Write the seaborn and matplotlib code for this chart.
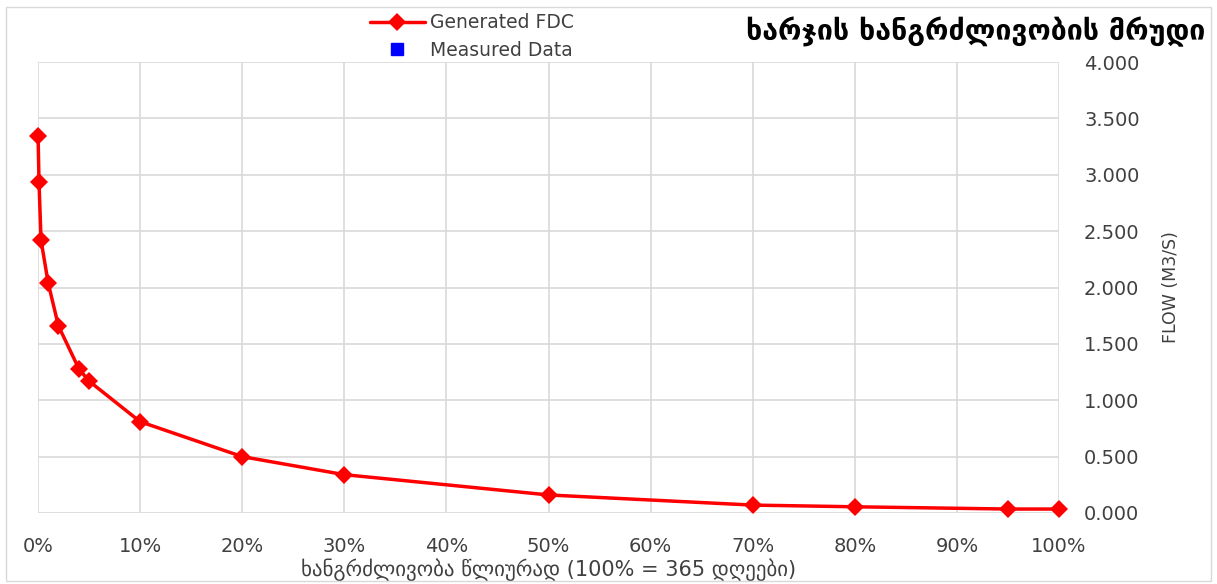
import matplotlib.pyplot as plt
import matplotlib.ticker as mticker
import seaborn as sns
from matplotlib.patches import Rectangle

# exceedance probability (% of year) and generated flow (m3/s)
EXCEEDANCE = [0.01, 0.1, 0.3, 1, 2, 4, 5, 10, 20, 30, 50, 70, 80, 95, 100]
FLOW = [3.346, 2.94, 2.42, 2.04, 1.66, 1.28, 1.17, 0.81, 0.50, 0.34, 0.16, 0.07, 0.055, 0.035, 0.035]

# measured data series is empty in the source chart (legend only)
MEASURED_X = []
MEASURED_Y = []

TITLE = "ხარჯის ხანგრძლივობის მრუდი"
XLABEL = "ხანგრძლივობა წლიურად (100% = 365 დღეები)"
YLABEL = "FLOW (M3/S)"

FONTS = ["DejaVu Sans"]


def main() -> None:
    sns.set_theme(style="whitegrid")
    plt.rcParams["font.family"] = FONTS
    plt.rcParams["text.color"] = "#404040"

    fig = plt.figure(figsize=(12.17, 5.84), dpi=100)
    ax = fig.add_axes([0.0312, 0.1216, 0.8390, 0.7722])

    sns.lineplot(
        x=EXCEEDANCE, y=FLOW, ax=ax, color="#ff0000", linewidth=2.5,
        marker="D", markersize=9, markeredgewidth=0, label="Generated FDC",
        clip_on=False, zorder=5,
    )
    ax.plot(MEASURED_X, MEASURED_Y, linestyle="none", marker="s",
            color="#0000ff", markersize=9, label="Measured Data")

    ax.set_xlim(0, 100)
    ax.set_ylim(0, 4)
    ax.xaxis.set_major_locator(mticker.MultipleLocator(10))
    ax.yaxis.set_major_locator(mticker.MultipleLocator(0.5))
    ax.xaxis.set_major_formatter(mticker.FuncFormatter(lambda v, _: f"{v:.0f}%"))
    ax.yaxis.set_major_formatter(mticker.FuncFormatter(lambda v, _: f"{v:.3f}"))
    ax.yaxis.tick_right()
    ax.yaxis.set_label_position("right")
    ax.tick_params(axis="both", labelsize=14, colors="#404040", length=0)
    ax.tick_params(axis="x", pad=17)
    ax.tick_params(axis="y", pad=18)
    ax.grid(True, color="#d9d9d9", linewidth=1.2)
    for s in ax.spines.values():
        s.set_visible(False)
    ax.set_facecolor("white")

    ax.set_xlabel(XLABEL, fontsize=15, color="#404040", labelpad=2)
    ax.set_ylabel(YLABEL, fontsize=12.5, color="#404040", labelpad=16)

    fig.text(0.99, 0.945, TITLE, ha="right", va="center", fontsize=20.5,
             fontweight="bold", color="black")

    leg = ax.legend(loc="upper left", bbox_to_anchor=(0.298, 0.99),
                    bbox_transform=fig.transFigure, frameon=False,
                    fontsize=13.5, handlelength=2.9, handletextpad=0.3,
                    labelspacing=0.45, borderaxespad=0)
    for t in leg.get_texts():
        t.set_color("#404040")

    fig.patches.append(Rectangle((0.005, 0.005), 0.99, 0.983, fill=False,
                                 edgecolor="#d9d9d9", linewidth=1,
                                 transform=fig.transFigure, figure=fig))

    fig.savefig("out.png", dpi=100)


if __name__ == "__main__":
    main()
